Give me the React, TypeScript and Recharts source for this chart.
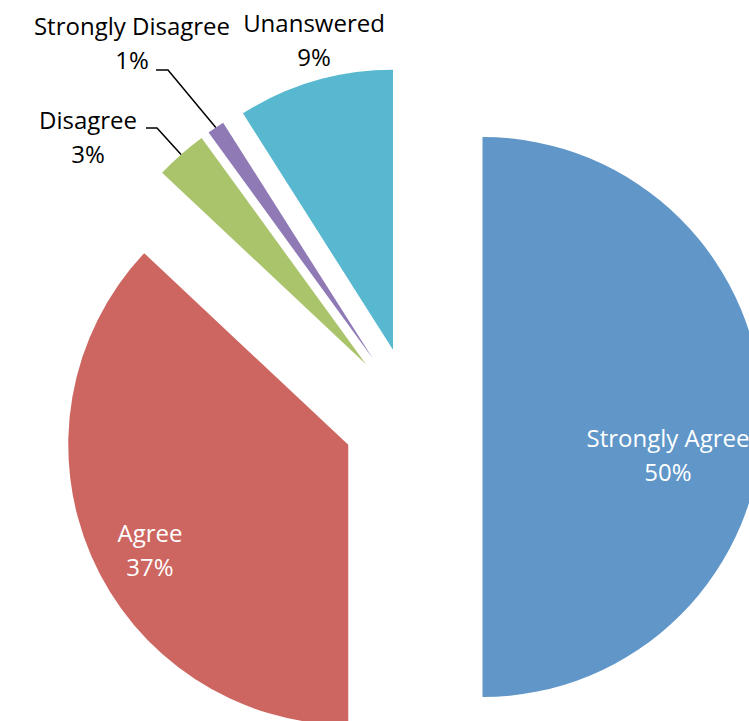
import { PieChart, Pie, Cell, Sector } from "recharts";

const categories = ["Strongly Agree", "Agree", "Disagree", "Strongly Disagree", "Unanswered"];
const shares = [50, 37, 3, 1, 9];
const percentLabels = ["50%", "37%", "3%", "1%", "9%"];

const COLORS = ["#6096C8", "#CD6660", "#AAC46C", "#8F7AB6", "#58B8D0"];

const data = categories.map((category, i) => ({
  category,
  share: shares[i],
  pct: percentLabels[i],
}));

const RADIUS = 280;
const EXPLODE = 70;
const RAD = Math.PI / 180;
const LINE_GAP = 34;

// where each label sits (centre x, first baseline) and its leader elbow
const LABEL_SPOTS: Record<string, { x: number; y: number; color: string; leader?: number[] }> = {
  "Strongly Agree": { x: 668, y: 447, color: "#fff" },
  Agree: { x: 150, y: 542, color: "#fff" },
  Disagree: { x: 88, y: 129, color: "#000", leader: [146, 157, 128] },
  "Strongly Disagree": { x: 132, y: 35, color: "#000", leader: [156, 168, 70] },
  Unanswered: { x: 314, y: 32, color: "#000" },
};

function shift(midAngle: number) {
  return {
    dx: EXPLODE * Math.cos(-midAngle * RAD),
    dy: EXPLODE * Math.sin(-midAngle * RAD),
  };
}

function ExplodedSlice(props: any) {
  const mid = props.midAngle ?? (props.startAngle + props.endAngle) / 2;
  const { dx, dy } = shift(mid);
  return <Sector {...props} cx={props.cx + dx} cy={props.cy + dy} stroke="none" />;
}

function renderLabel(props: any) {
  const { cx, cy, midAngle, outerRadius, index } = props;
  const item = data[index];
  const spot = LABEL_SPOTS[item.category];
  const { dx, dy } = shift(midAngle);
  let leader = null;
  if (spot.leader) {
    const ex = cx + dx + outerRadius * Math.cos(-midAngle * RAD);
    const ey = cy + dy + outerRadius * Math.sin(-midAngle * RAD);
    const [x1, x2, ly] = spot.leader;
    leader = (
      <polyline
        points={`${x1},${ly} ${x2},${ly} ${ex},${ey}`}
        stroke="#000"
        strokeWidth={1.5}
        fill="none"
      />
    );
  }
  return (
    <g key={item.category}>
      {leader}
      <text
        textAnchor="middle"
        fill={spot.color}
        fontSize={24}
        fontFamily="'Open Sans', 'Noto Sans', sans-serif"
      >
        <tspan x={spot.x} y={spot.y}>
          {item.category}
        </tspan>
        <tspan x={spot.x} y={spot.y + LINE_GAP}>
          {item.pct}
        </tspan>
      </text>
    </g>
  );
}

export default function App() {
  return (
    <div style={{ position: "absolute", left: 0, top: 0 }}>
      <PieChart width={749} height={721} margin={{ top: 0, right: 0, bottom: 0, left: 0 }}>
        <Pie
          data={data}
          dataKey="share"
          nameKey="category"
          cx={412.5}
          cy={417}
          outerRadius={RADIUS}
          startAngle={90}
          endAngle={-270}
          stroke="none"
          shape={ExplodedSlice}
          label={renderLabel}
          labelLine={false}
          isAnimationActive={false}
        >
          {data.map((item, index) => (
            <Cell key={item.category} fill={COLORS[index]} />
          ))}
        </Pie>
      </PieChart>
    </div>
  );
}
